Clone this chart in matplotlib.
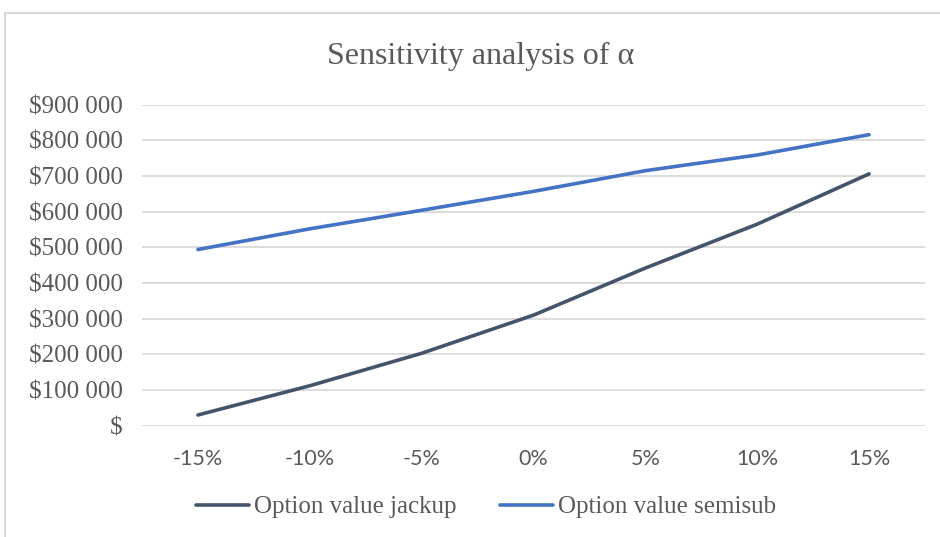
import matplotlib
matplotlib.use('Agg')
import matplotlib.pyplot as plt
from matplotlib.patches import Rectangle

# sensitivity of alpha
alpha_labels = ['-15%', '-10%', '-5%', '0%', '5%', '10%', '15%']
jackup = [30000, 112000, 203000, 310000, 442000, 565000, 706000]
semisub = [494000, 552000, 604000, 657000, 715000, 759000, 816000]

y_ticks = [0, 100000, 200000, 300000, 400000, 500000, 600000, 700000, 800000, 900000]
y_labels = ['$', '$100 000', '$200 000', '$300 000', '$400 000', '$500 000',
            '$600 000', '$700 000', '$800 000', '$900 000']

text_col = '#595959'
serif = ['Liberation Serif', 'DejaVu Serif']

fig = plt.figure(figsize=(9.4, 5.37), dpi=100)
ax = fig.add_axes([142 / 940, 1 - 425.7 / 537, 783 / 940, 321 / 537])

x = list(range(len(alpha_labels)))
ax.plot(x, jackup, color='#44546A', lw=2.6, solid_capstyle='round', label='Option value jackup')
ax.plot(x, semisub, color='#4472C4', lw=2.6, solid_capstyle='round', label='Option value semisub')

ax.set_xlim(-0.5, len(alpha_labels) - 0.5)
ax.set_ylim(0, 900000)
ax.set_yticks(y_ticks)
ax.set_yticklabels(y_labels, family=serif, fontsize=18, color=text_col)
ax.set_xticks(x)
ax.set_xticklabels(alpha_labels, family=['Lato', 'DejaVu Sans'], fontsize=15.5, color=text_col)
ax.tick_params(axis='y', length=0, pad=14)
ax.tick_params(axis='x', length=0, pad=17)

ax.grid(axis='y', color='#D9D9D9', lw=1.3)
ax.set_axisbelow(True)
for s in ax.spines.values():
    s.set_visible(False)

fig.text(481 / 940, 1 - 56 / 537, 'Sensitivity analysis of α', ha='center', va='center',
         family=serif, fontsize=23, color=text_col)

fig.legend(loc='center', bbox_to_anchor=(486 / 940, 1 - 507 / 537), ncol=2, frameon=False,
           prop={'family': serif, 'size': 18}, labelcolor=text_col,
           handlelength=2.1, handletextpad=0.2, columnspacing=1.75)

# chart area border
fig.patches.append(Rectangle((5 / 940, -0.1), 1.2, 1 - 13 / 537 + 0.1, transform=fig.transFigure,
                             fill=False, edgecolor='#D9D9D9', lw=1.5, clip_on=False))

fig.savefig('out.png', dpi=100)
